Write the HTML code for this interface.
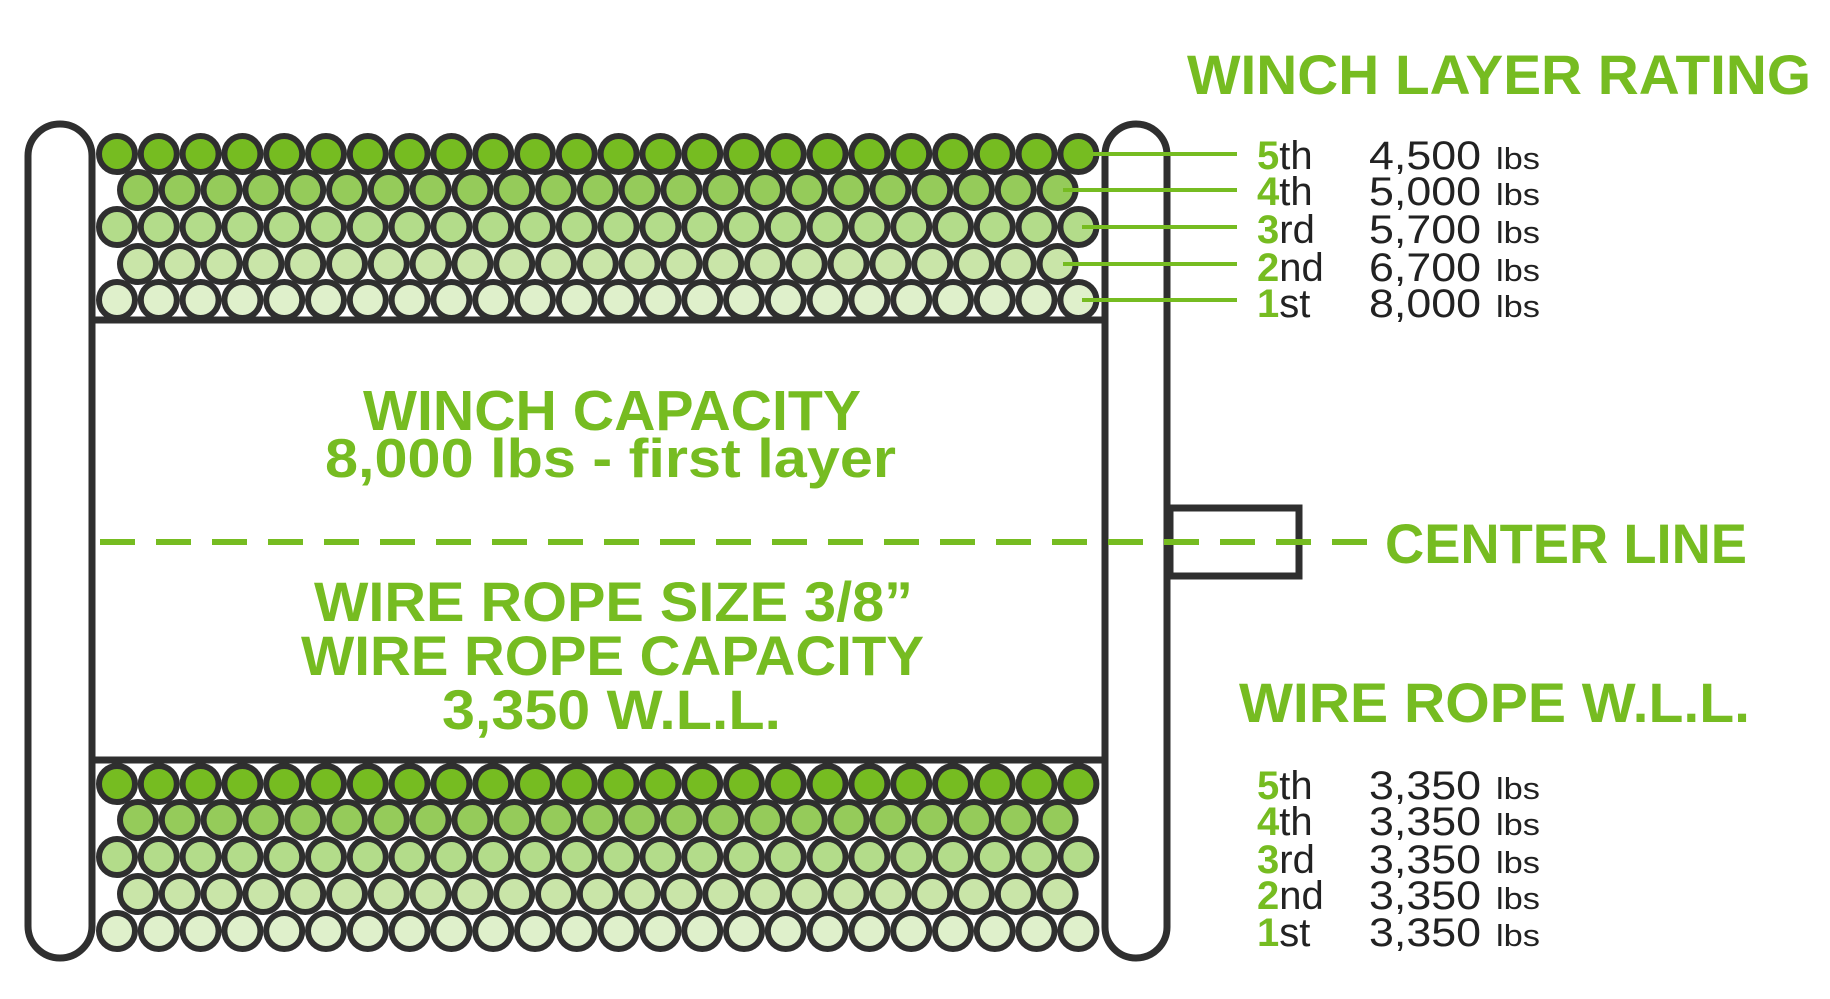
<!DOCTYPE html>
<html><head><meta charset="utf-8"><style>
html,body{margin:0;padding:0;background:#fff;}
svg{display:block;}
.g{fill:#76bc21;font-family:"Liberation Sans",sans-serif;font-weight:bold;}
.d{fill:#222;font-family:"Liberation Sans",sans-serif;}
</style></head><body>
<svg width="1830" height="999" viewBox="0 0 1830 999" xmlns="http://www.w3.org/2000/svg">
<rect x="92" y="320" width="1013" height="440" fill="#fff" stroke="#2f2f2f" stroke-width="7"/>
<rect x="28" y="124" width="64" height="834" rx="32" fill="#fff" stroke="#2f2f2f" stroke-width="7"/>
<rect x="1105" y="124" width="62" height="834" rx="31" fill="#fff" stroke="#2f2f2f" stroke-width="7"/>
<rect x="1170" y="508" width="129" height="68" fill="#fff" stroke="#2f2f2f" stroke-width="7"/>
<g id="layers" stroke="#2f2f2f" stroke-width="6">
</g>
<g stroke="#76bc21" stroke-width="4">
<line x1="1082" y1="154" x2="1237" y2="154"/>
<line x1="1063" y1="190" x2="1237" y2="190"/>
<line x1="1082" y1="227" x2="1237" y2="227"/>
<line x1="1063" y1="264" x2="1237" y2="264"/>
<line x1="1082" y1="300" x2="1237" y2="300"/>
</g>
<line x1="100" y1="542" x2="1375" y2="542" stroke="#76bc21" stroke-width="6" stroke-dasharray="35 21"/>
<text class="g" x="1187" y="94" font-size="56" textLength="624" lengthAdjust="spacingAndGlyphs">WINCH LAYER RATING</text>
<text class="g" x="1385" y="563" font-size="56" textLength="362" lengthAdjust="spacingAndGlyphs">CENTER LINE</text>
<text class="g" x="1239" y="722" font-size="56" textLength="511" lengthAdjust="spacingAndGlyphs">WIRE ROPE W.L.L.</text>
<text class="g" x="363" y="430" font-size="57" textLength="498" lengthAdjust="spacingAndGlyphs">WINCH CAPACITY</text>
<text class="g" x="325" y="477" font-size="55" textLength="571" lengthAdjust="spacingAndGlyphs">8,000 lbs - first layer</text>
<text class="g" x="314" y="621" font-size="56" textLength="599" lengthAdjust="spacingAndGlyphs">WIRE ROPE SIZE 3/8”</text>
<text class="g" x="301" y="675" font-size="56" textLength="623" lengthAdjust="spacingAndGlyphs">WIRE ROPE CAPACITY</text>
<text class="g" x="442" y="729" font-size="56" textLength="339" lengthAdjust="spacingAndGlyphs">3,350 W.L.L.</text>
<g id="lists"></g>
</svg>
<script>
(function(){
var ns="http://www.w3.org/2000/svg";
var L=document.getElementById("layers");
var fills=["#76bc21","#95cb5a","#b3dc8a","#c9e5a8","#dff0cb"];
function rows(ys){
  for(var i=0;i<5;i++){
    var odd=(i%2==0);
    var n=odd?24:23, x0=odd?117:138;
    for(var k=0;k<n;k++){
      var c=document.createElementNS(ns,"circle");
      c.setAttribute("cx",x0+k*41.8);c.setAttribute("cy",ys[i]);c.setAttribute("r",18);
      c.setAttribute("fill",fills[i]);L.appendChild(c);
    }
  }
}
rows([154,190,227,264,300]);
rows([784,820,857,894,931]);
var G=document.getElementById("lists");
var ord=[["5","th"],["4","th"],["3","rd"],["2","nd"],["1","st"]];
function list(bs,vals){
  for(var i=0;i<5;i++){
    var t=document.createElementNS(ns,"text");
    t.setAttribute("x",1257);t.setAttribute("y",bs[i]);t.setAttribute("font-size",40);
    t.setAttribute("class","d");
    t.innerHTML='<tspan style="fill:#76bc21;font-weight:bold">'+ord[i][0]+'</tspan>'+ord[i][1];
    G.appendChild(t);
    var v=document.createElementNS(ns,"text");
    v.setAttribute("x",1369);v.setAttribute("y",bs[i]);v.setAttribute("font-size",40);
    v.setAttribute("class","d");v.setAttribute("textLength",112);v.setAttribute("lengthAdjust","spacingAndGlyphs");
    v.textContent=vals[i];G.appendChild(v);
    var l=document.createElementNS(ns,"text");
    l.setAttribute("x",1496);l.setAttribute("y",bs[i]);l.setAttribute("font-size",31);
    l.setAttribute("class","d");l.setAttribute("textLength",44);l.setAttribute("lengthAdjust","spacingAndGlyphs");
    l.textContent="lbs";G.appendChild(l);
  }
}
list([169,205,243,281,317],["4,500","5,000","5,700","6,700","8,000"]);
list([799,835,873,909,946],["3,350","3,350","3,350","3,350","3,350"]);
})();
</script>
</body></html>
